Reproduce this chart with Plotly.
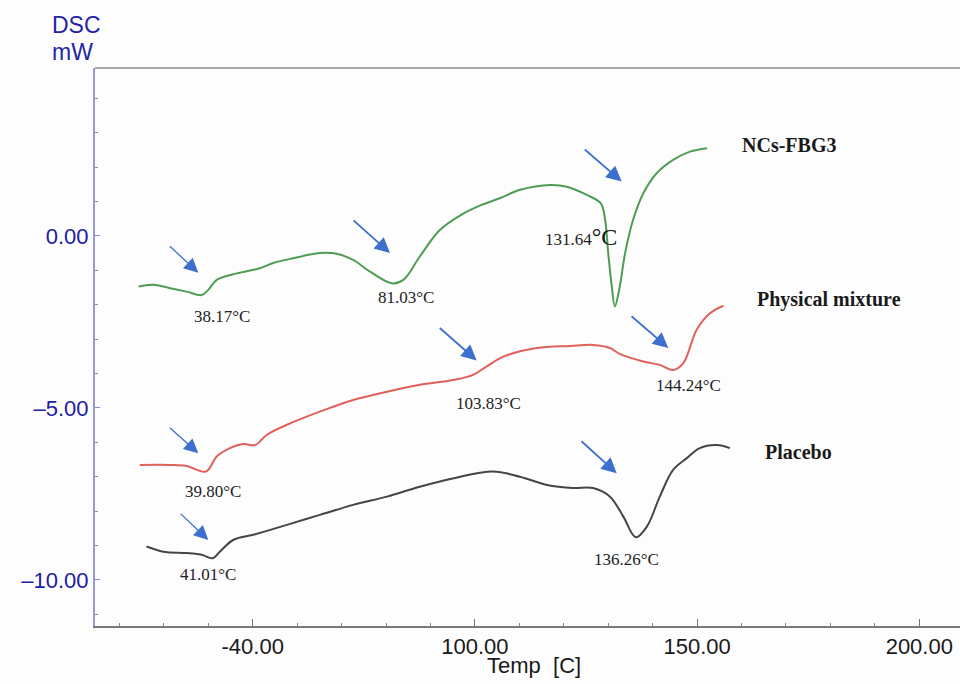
import plotly.graph_objects as go

# ---------------- data ----------------
green_x = [24.3, 27.6, 31.4, 35.1, 38.5, 40.0, 41.9, 46.4, 51.6, 54.6, 59.1, 65.1, 68.9, 72.6, 76.4, 81.3, 83.9,
           87.6, 92.1, 97.0, 101.5, 105.7, 110.2, 116.9, 120.7, 125.2, 128.3, 129.3, 130.0, 130.8, 131.5, 132.6,
           133.8, 135.6, 137.9, 140.9, 144.6, 148.4, 152.2]
green_y = [-1.47, -1.42, -1.52, -1.62, -1.72, -1.57, -1.28, -1.09, -0.94, -0.79, -0.65, -0.50, -0.52, -0.70, -1.04,
           -1.38, -1.28, -0.60, 0.17, 0.62, 0.90, 1.10, 1.34, 1.48, 1.43, 1.19, 0.95, 0.47, -0.50, -1.47, -2.05,
           -1.47, -0.50, 0.47, 1.24, 1.82, 2.21, 2.45, 2.55]

red_x = [24.6, 31.4, 35.1, 39.5, 41.9, 44.9, 47.9, 50.5, 53.2, 57.7, 65.1, 72.6, 80.2, 87.6, 95.1, 99.6, 102.6,
         106.4, 113.9, 121.4, 126.6, 130.4, 132.6, 137.9, 141.6, 144.6, 146.9, 149.9, 152.9, 155.9]
red_y = [-6.66, -6.66, -6.69, -6.85, -6.41, -6.17, -6.05, -6.08, -5.78, -5.49, -5.11, -4.77, -4.53, -4.33, -4.19,
         -4.04, -3.80, -3.51, -3.26, -3.20, -3.17, -3.26, -3.43, -3.65, -3.75, -3.90, -3.70, -2.73, -2.25, -2.03]

black_x = [26.1, 29.9, 35.1, 38.5, 41.0, 42.6, 45.6, 50.1, 57.7, 65.1, 72.6, 80.2, 87.6, 95.0, 104.1, 110.1, 116.2,
           122.1, 126.6, 130.4, 133.4, 136.2, 138.7, 141.6, 144.6, 147.7, 150.6, 154.4, 157.4]
black_y = [-9.03, -9.18, -9.22, -9.27, -9.37, -9.18, -8.84, -8.69, -8.40, -8.11, -7.82, -7.58, -7.29, -7.05, -6.85,
           -7.00, -7.24, -7.33, -7.33, -7.58, -8.16, -8.76, -8.45, -7.58, -6.80, -6.46, -6.17, -6.08, -6.17]

x_tickvals = [50, 100, 150, 200]
x_ticktext = ["-40.00", "100.00", "150.00", "200.00"]
y_tickvals = [0, -5, -10]
y_ticktext = ["0.00", "\u20135.00", "\u201310.00"]

series_names = ["NCs-FBG3", "Physical mixture", "Placebo"]
series_label_x = [159.6, 163.0, 164.8]
series_label_y = [2.65, -1.86, -6.27]

peak_labels = ["38.17\u00b0C", "81.03\u00b0C", "131.64<span style='font-size:24px;color:#111111'>\u00b0C</span>",
               "103.83\u00b0C", "144.24\u00b0C", "39.80\u00b0C", "41.01\u00b0C", "136.26\u00b0C"]
peak_label_x = [43.1, 84.6, 123.9, 103.0, 148.0, 41.1, 40.0, 134.2]
peak_label_y = [-2.33, -1.80, -0.04, -4.87, -4.36, -7.43, -9.85, -9.42]

arrow_head_x = [37.76, 80.9, 133.03, 100.4, 143.52, 37.76, 40.01, 131.91]
arrow_head_y = [-1.07, -0.50, 1.58, -3.62, -3.26, -6.32, -8.84, -6.90]
arrow_tail_x = [31.01, 72.34, 124.39, 91.76, 134.9, 31.01, 33.48, 123.65]
arrow_tail_y = [-0.26, 0.49, 2.55, -2.64, -2.30, -5.54, -8.04, -5.93]
arrow_width = [1.3, 1.8, 1.8, 1.8, 1.8, 1.3, 1.3, 1.8]

# ---------------- figure ----------------
fig = go.Figure()
line_colors = ["#4e9d52", "#e0605a", "#454545"]
for xs, ys, col, nm in [(green_x, green_y, line_colors[0], series_names[0]),
                        (red_x, red_y, line_colors[1], series_names[1]),
                        (black_x, black_y, line_colors[2], series_names[2])]:
    fig.add_trace(go.Scatter(x=xs, y=ys, mode="lines", name=nm,
                             line=dict(color=col, width=2, shape="spline", smoothing=1.0),
                             showlegend=False))

ann = []
for t, x, y in zip(series_names, series_label_x, series_label_y):
    ann.append(dict(x=x, y=y, xref="x", yref="y", text="<b>" + t + "</b>", showarrow=False,
                    xanchor="left", yanchor="middle",
                    font=dict(family="Liberation Serif", size=20, color="#1a1a1a")))
for t, x, y in zip(peak_labels, peak_label_x, peak_label_y):
    ann.append(dict(x=x, y=y, xref="x", yref="y", text=t, showarrow=False,
                    xanchor="center", yanchor="middle",
                    font=dict(family="Liberation Serif", size=17, color="#222222")))
for hx, hy, tx, ty, w in zip(arrow_head_x, arrow_head_y, arrow_tail_x, arrow_tail_y, arrow_width):
    ann.append(dict(x=hx, y=hy, xref="x", yref="y", ax=tx, ay=ty, axref="x", ayref="y",
                    text="", showarrow=True, arrowhead=2, arrowsize=2.2 if w < 1.5 else 1.7,
                    arrowwidth=w, arrowcolor="#3d6fcc"))
ann.append(dict(x=-0.052, y=1.0 + (68 - 25) / 558, xref="paper", yref="paper", text="DSC",
                showarrow=False, xanchor="left", yanchor="middle",
                font=dict(family="Liberation Sans", size=23, color="#2424a4")))
ann.append(dict(x=-0.052, y=1.0 + (68 - 52) / 558, xref="paper", yref="paper", text="mW",
                showarrow=False, xanchor="left", yanchor="middle",
                font=dict(family="Liberation Sans", size=23, color="#2424a4")))
ann.append(dict(x=(534 - 95) / 865, y=-(665 - 626) / 558, xref="paper", yref="paper", text="Temp  [C]",
                showarrow=False, xanchor="center", yanchor="middle",
                font=dict(family="Liberation Sans", size=22, color="#1a1a1a")))
fig.update_layout(annotations=ann)

fig.update_layout(
    width=960, height=684,
    margin=dict(l=95, r=0, t=68, b=58),
    paper_bgcolor="#fdfdfd", plot_bgcolor="#fdfdfd",
    font=dict(family="Liberation Sans"),
    xaxis=dict(range=[14.51, 209.16], tickvals=x_tickvals, ticktext=x_ticktext,
               ticks="inside", ticklen=7, tickcolor="#777777", tickwidth=1,
               minor=dict(dtick=10, tick0=0, ticks="inside", ticklen=3, tickcolor="#888888"),
               showline=True, linecolor="#7a7a7a", linewidth=1.5, showgrid=False, zeroline=False,
               tickfont=dict(family="Liberation Sans", size=22, color="#1a1a1a")),
    yaxis=dict(range=[-11.34, 4.88], tickvals=y_tickvals, ticktext=y_ticktext,
               ticks="inside", ticklen=5, tickcolor="#8888c8",
               minor=dict(dtick=1, tick0=0, ticks="inside", ticklen=3, tickcolor="#8888c8"),
               showline=True, linecolor="#9a9ad0", linewidth=2, showgrid=False, zeroline=False,
               tickfont=dict(family="Liberation Sans", size=22, color="#2020a0")),
    shapes=[dict(type="line", xref="paper", yref="paper", x0=0, x1=1, y0=1, y1=1,
                 line=dict(color="#8a8a8a", width=1.5))],
)

fig.write_html("out.html")
